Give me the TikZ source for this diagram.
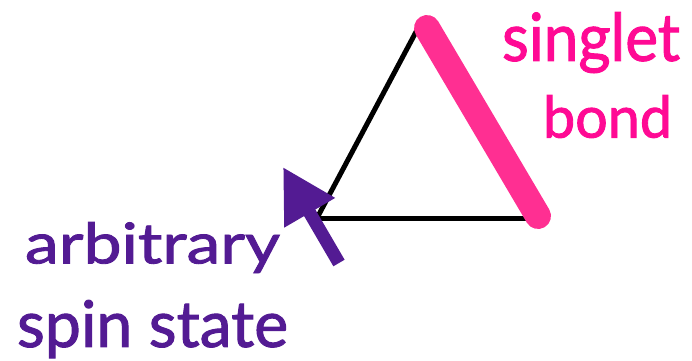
\documentclass[tikz,border=0pt]{standalone}
\usepackage{fontspec}
\setmainfont{Lato}
\newfontfamily\labelfont{Lato}[FakeBold=1.5]
\usetikzlibrary{arrows.meta}
\definecolor{pinktext}{HTML}{FF0A94}
\definecolor{pinkline}{HTML}{FF2F92}
\definecolor{spinpurple}{HTML}{531B93}
\tikzset{
  edge/.style={draw=black, line width=5pt},
  bondline/.style={draw=pinkline, line width=26pt, line cap=round},
  spinarrow/.style={draw=spinpurple, line width=13pt, -{Triangle[length=53pt,width=55pt]}, fill=spinpurple},
  lbl/.style={inner sep=0pt, outer sep=0pt, anchor=north west, font=\labelfont}
}
\begin{document}
\begin{tikzpicture}[x=1pt,y=-1pt]
\useasboundingbox (0,0) rectangle (692,360);
\coordinate (A) at (417,30);
\coordinate (B) at (317,218);
\coordinate (C) at (530,218);
\coordinate (P1) at (427,28);
\coordinate (P2) at (538,216);
\coordinate (tail) at (339,263);
\coordinate (tip) at (283,167);
\draw[edge] (B) -- (A);
\draw[edge] (B) -- (C);
\draw[bondline] (P1) -- (P2);
\draw[spinarrow] (tail) -- (tip);
\node[lbl, text=pinktext] (s1) at (502,12) {\resizebox*{178pt}{61pt}{singlet}};
\node[lbl, text=pinktext] (s2) at (543,95) {\resizebox*{129pt}{43pt}{bond}};
\node[lbl, text=spinpurple] (a1) at (25,222) {\resizebox*{255pt}{51pt}{arbitrary}};
\node[lbl, text=spinpurple] (a2) at (17,300) {\resizebox*{271pt}{58pt}{spin state}};
\end{tikzpicture}
\end{document}
